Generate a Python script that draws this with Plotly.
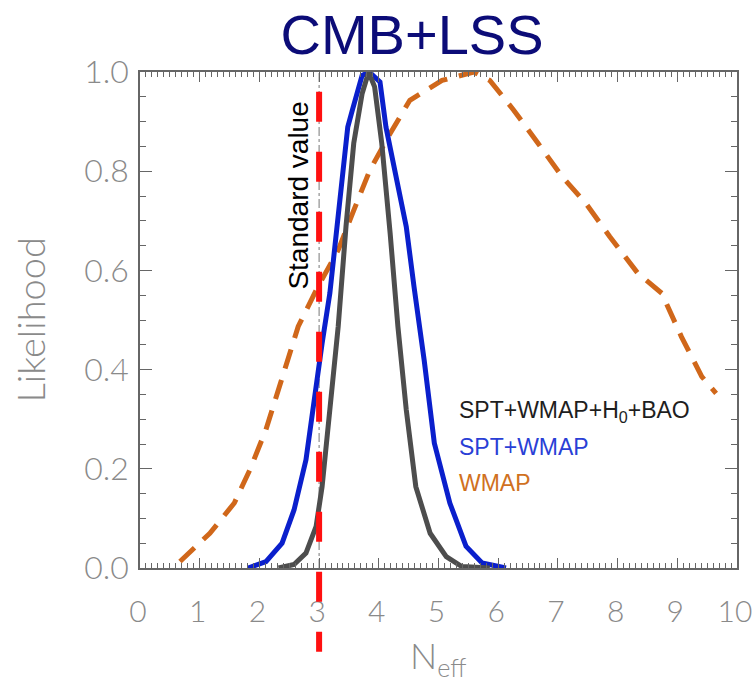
import plotly.graph_objects as go

# ---- data ----
neff_spt_bao = [2.32, 2.58, 2.78, 2.95, 3.05, 3.18, 3.32, 3.45, 3.58, 3.72, 3.83,
                3.93, 4.05, 4.19, 4.32, 4.46, 4.62, 4.86, 5.13, 5.39, 5.86]
like_spt_bao = [0.0, 0.007, 0.03, 0.084, 0.164, 0.319, 0.487, 0.688, 0.856, 0.956, 1.0,
                0.97, 0.856, 0.675, 0.487, 0.319, 0.164, 0.07, 0.023, 0.003, 0.0]

neff_spt = [1.81, 2.11, 2.38, 2.58, 2.78, 2.93, 3.05, 3.18, 3.32, 3.48, 3.55, 3.72, 3.84,
            4.02, 4.12, 4.29, 4.46, 4.59, 4.76, 4.93, 5.19, 5.46, 5.73, 6.13]
like_spt = [0.0, 0.013, 0.05, 0.117, 0.218, 0.352, 0.453, 0.554, 0.70, 0.889, 0.92, 0.993, 1.0,
            0.98, 0.889, 0.789, 0.688, 0.567, 0.419, 0.252, 0.131, 0.044, 0.01, 0.0]

neff_wmap = [0.67, 1.17, 1.58, 1.84, 2.11, 2.38, 2.65, 2.98, 3.32, 3.58, 3.85, 4.19, 4.52,
             5.06, 5.59, 5.86, 6.26, 6.67, 7.07, 7.47, 7.87, 8.34, 8.74, 9.07, 9.41, 9.65]
like_wmap = [0.013, 0.07, 0.131, 0.198, 0.279, 0.379, 0.487, 0.567, 0.641, 0.721, 0.802, 0.876, 0.943,
             0.983, 1.0, 0.983, 0.923, 0.856, 0.789, 0.735, 0.668, 0.594, 0.554, 0.466, 0.386, 0.352]

standard_value = 3.0

series_names = ["SPT+WMAP+H<sub>0</sub>+BAO", "SPT+WMAP", "WMAP"]
x_tick_vals = list(range(0, 11))
y_tick_vals = [0.0, 0.2, 0.4, 0.6, 0.8, 1.0]

# ---- styles ----
C_GRAY = "#4d4d4d"
C_BLUE = "#0a1fcc"
C_ORANGE = "#d0671a"
C_RED = "#ff1010"
AXIS_C = "#666666"
THIN = "Lato, Liberation Sans, Arial"
YTICKFONT = dict(family=THIN, size=32, color="#8a8a8a", weight=300)
XTICKFONT = dict(family=THIN, size=30, color="#8a8a8a", weight=300)

fig = go.Figure()

fig.add_trace(go.Scatter(x=neff_wmap, y=like_wmap, mode="lines", name=series_names[2],
                         line=dict(color=C_ORANGE, width=5, dash="20px,12px")))
fig.add_trace(go.Scatter(x=neff_spt, y=like_spt, mode="lines", name=series_names[1],
                         line=dict(color=C_BLUE, width=5)))
fig.add_trace(go.Scatter(x=neff_spt_bao, y=like_spt_bao, mode="lines", name=series_names[0],
                         line=dict(color=C_GRAY, width=5)))

# thin dash-dot reference line at the standard value
fig.add_shape(type="line", xref="x", yref="y", x0=standard_value, x1=standard_value,
              y0=0, y1=1, line=dict(color="#777777", width=1, dash="dashdot"), layer="below")
# thick red dashed marker for the standard value (extends below the axis)
fig.add_shape(type="line", xref="x", yref="paper", x0=standard_value, x1=standard_value,
              y0=0.96, y1=-0.169, line=dict(color=C_RED, width=6, dash="30px,30px"))

fig.add_annotation(x=standard_value, xref="x", xanchor="right", xshift=-4,
                   y=0.75, yref="paper", yanchor="middle",
                   text="Standard value", textangle=-90, showarrow=False,
                   font=dict(family="Liberation Sans, Arial", size=28, color="#000000"))

legend_colors = ["#1e1e1e", "#2a3fd6", "#d0711f"]
legend_y = [0.315, 0.243, 0.172]
for name, col, yy in zip(series_names, legend_colors, legend_y):
    fig.add_annotation(x=0.531, xref="paper", xanchor="left", y=yy, yref="paper",
                       yanchor="middle", text=name, showarrow=False,
                       font=dict(family="Liberation Sans, Arial", size=23, color=col))

# axis titles
fig.add_annotation(x=0.50, xref="paper", xanchor="center", y=-0.18, yref="paper",
                   yanchor="middle", text="N<sub>eff</sub>", showarrow=False,
                   font=dict(family=THIN, size=36, color="#8a8a8a", weight=300))
fig.add_annotation(x=-0.185, xref="paper", xanchor="center", y=0.5, yref="paper",
                   yanchor="middle", text="Likelihood", textangle=-90, showarrow=False,
                   font=dict(family=THIN, size=38, color="#8a8a8a", weight=300))

fig.update_layout(
    width=754, height=681,
    margin=dict(l=140, r=17, t=72, b=113),
    paper_bgcolor="white", plot_bgcolor="white",
    showlegend=False,
    title=dict(text="CMB+LSS", x=412 / 754, xref="container", xanchor="center",
               y=1 - 34 / 681, yref="container", yanchor="middle",
               font=dict(family="Liberation Sans, Arial", size=56, color="#0c0c78")),
)

fig.update_xaxes(
    range=[0, 10], tickvals=x_tick_vals, ticktext=[str(v) for v in x_tick_vals],
    showgrid=False, zeroline=False, showline=True, linecolor=AXIS_C, linewidth=1.5,
    mirror="ticks", ticks="inside", ticklen=10, tickwidth=1.2, tickcolor=AXIS_C,
    minor=dict(dtick=0.1, ticks="inside", ticklen=5, tickwidth=1, tickcolor=AXIS_C, showgrid=False),
    tickfont=XTICKFONT, ticklabelstandoff=16, ticklabelshift=-2,
    ticklabeloverflow="allow", automargin=False,
)
fig.update_yaxes(
    range=[0, 1.0], tickvals=y_tick_vals, ticktext=[f"{v:.1f}" for v in y_tick_vals],
    showgrid=False, zeroline=False, showline=True, linecolor=AXIS_C, linewidth=1.5,
    mirror="ticks", ticks="inside", ticklen=12, tickwidth=1.2, tickcolor=AXIS_C,
    minor=dict(dtick=0.05, ticks="inside", ticklen=6, tickwidth=1, tickcolor=AXIS_C, showgrid=False),
    tickfont=YTICKFONT, ticklabelstandoff=3, ticklabeloverflow="allow", automargin=False,
)

# remove the default page margin so the figure sits at the window's top-left corner
fig.write_html("out.html", config={"displayModeBar": False},
               post_script="document.body.style.margin='0';")
